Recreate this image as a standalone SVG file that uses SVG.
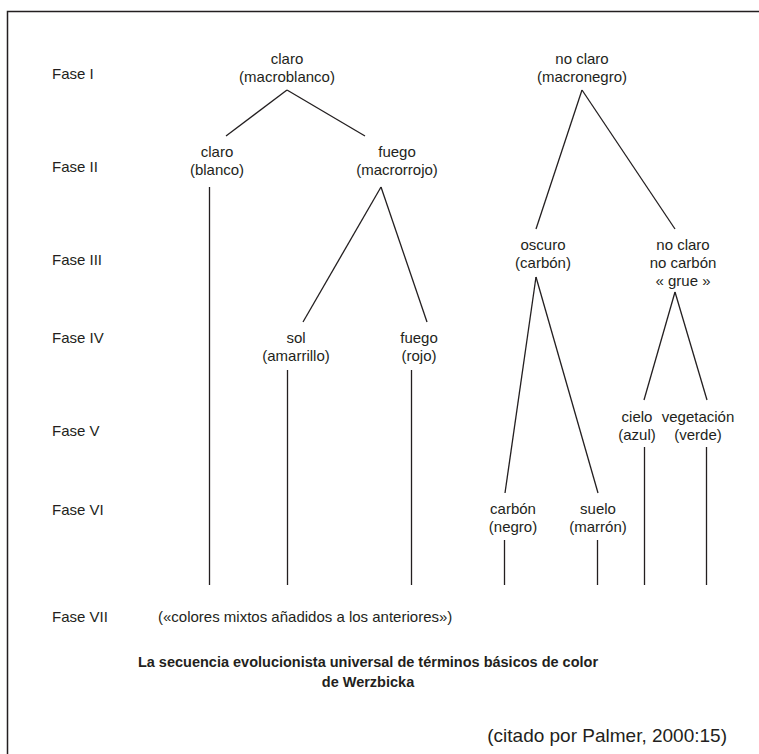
<svg xmlns="http://www.w3.org/2000/svg" width="759" height="754" viewBox="0 0 759 754">
  <style>
    text { font-family: "Liberation Sans", Arial, sans-serif; font-size: 15px; fill: #231f20; }
    .node text { text-anchor: middle; }
    .phase { font-size: 15px; }
    .title { font-weight: bold; font-size: 14.5px; text-anchor: middle; }
    .cite { font-size: 19px; text-anchor: end; }
    .edges line { stroke: #231f20; stroke-width: 1.3; }
    .frame { fill: none; stroke: #231f20; stroke-width: 1.5; }
  </style>

  <rect width="759" height="754" fill="#ffffff"/>
  <!-- outer frame, open to the right and bottom -->
  <path class="frame" d="M7.5,754 V11.5 H759"/>

  <!-- phase labels -->
  <g id="phases">
    <text class="phase" x="52" y="79">Fase I</text>
    <text class="phase" x="52" y="172">Fase II</text>
    <text class="phase" x="52" y="265">Fase III</text>
    <text class="phase" x="52" y="343">Fase IV</text>
    <text class="phase" x="52" y="436">Fase V</text>
    <text class="phase" x="52" y="515">Fase VI</text>
    <text class="phase" x="52" y="622">Fase VII</text>
  </g>

  <!-- connectors -->
  <g class="edges" id="edges">
    <line x1="287" y1="90" x2="226" y2="136"/>
    <line x1="287" y1="90" x2="365" y2="136"/>
    <line x1="582" y1="90" x2="536" y2="229"/>
    <line x1="582" y1="90" x2="675" y2="229"/>
    <line x1="209.5" y1="187" x2="209.5" y2="585"/>
    <line x1="381" y1="187" x2="303" y2="322"/>
    <line x1="381" y1="187" x2="427" y2="322"/>
    <line x1="287.5" y1="370" x2="287.5" y2="585"/>
    <line x1="411.5" y1="370" x2="411.5" y2="585"/>
    <line x1="536" y1="277" x2="505" y2="493"/>
    <line x1="536" y1="277" x2="598" y2="493"/>
    <line x1="675" y1="292" x2="644" y2="400"/>
    <line x1="675" y1="292" x2="707" y2="400"/>
    <line x1="644.5" y1="447" x2="644.5" y2="585"/>
    <line x1="706.5" y1="447" x2="706.5" y2="585"/>
    <line x1="504.5" y1="540" x2="504.5" y2="585"/>
    <line x1="597.5" y1="540" x2="597.5" y2="585"/>
  </g>

  <!-- nodes -->
  <g class="node" id="n-claro-macroblanco">
    <text x="287" y="64">claro</text>
    <text x="287" y="82">(macroblanco)</text>
  </g>
  <g class="node" id="n-noclaro-macronegro">
    <text x="582" y="64">no claro</text>
    <text x="582" y="82">(macronegro)</text>
  </g>
  <g class="node" id="n-claro-blanco">
    <text x="217" y="157">claro</text>
    <text x="217" y="175">(blanco)</text>
  </g>
  <g class="node" id="n-fuego-macrorrojo">
    <text x="397" y="157">fuego</text>
    <text x="397" y="175">(macrorrojo)</text>
  </g>
  <g class="node" id="n-oscuro-carbon">
    <text x="543" y="250">oscuro</text>
    <text x="543" y="268">(carbón)</text>
  </g>
  <g class="node" id="n-grue">
    <text x="683" y="250">no claro</text>
    <text x="683" y="268">no carbón</text>
    <text x="683" y="286">« grue »</text>
  </g>
  <g class="node" id="n-sol-amarrillo">
    <text x="296" y="343">sol</text>
    <text x="296" y="361">(amarrillo)</text>
  </g>
  <g class="node" id="n-fuego-rojo">
    <text x="419" y="343">fuego</text>
    <text x="419" y="361">(rojo)</text>
  </g>
  <g class="node" id="n-cielo-azul">
    <text x="637" y="422">cielo</text>
    <text x="637" y="440">(azul)</text>
  </g>
  <g class="node" id="n-vegetacion-verde">
    <text x="698" y="422">vegetación</text>
    <text x="698" y="440">(verde)</text>
  </g>
  <g class="node" id="n-carbon-negro">
    <text x="513" y="514">carbón</text>
    <text x="513" y="532">(negro)</text>
  </g>
  <g class="node" id="n-suelo-marron">
    <text x="598" y="514">suelo</text>
    <text x="598" y="532">(marrón)</text>
  </g>
  <g class="node" id="n-mixtos">
    <text x="158" y="622" style="text-anchor:start">(«colores mixtos añadidos a los anteriores»)</text>
  </g>

  <!-- caption -->
  <text class="title" x="368" y="667">La secuencia evolucionista universal de términos básicos de color</text>
  <text class="title" x="368" y="687">de Werzbicka</text>
  <text class="cite" x="727" y="742">(citado por Palmer, 2000:15)</text>
</svg>
